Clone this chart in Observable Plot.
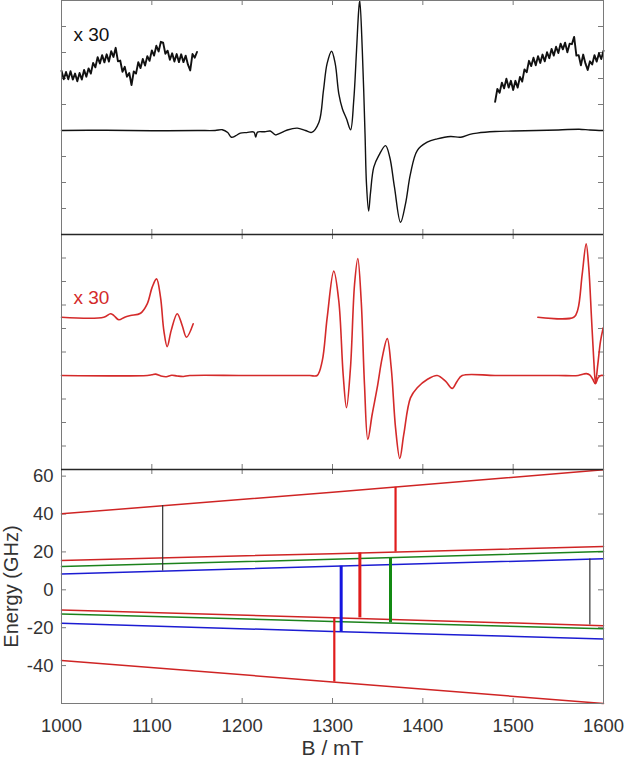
<!DOCTYPE html>
<html><head><meta charset="utf-8">
<script src="https://cdn.jsdelivr.net/npm/d3@7"></script>
<script src="https://cdn.jsdelivr.net/npm/@observablehq/plot@0.6"></script>
<style>
html,body{margin:0;padding:0;background:#fff;}
#chart svg{display:block;overflow:visible;}
</style></head><body><div id="chart"></div>
<script>
// ---------- x axis ----------
const fieldTicks = [1000, 1100, 1200, 1300, 1400, 1500, 1600];
const fieldTicksInner = [1100, 1200, 1300, 1400, 1500];

// ---------- experimental spectrum (black) ----------
const expB = [1000,1050,1100,1150,1170,1178,1184,1188,1193,1198,1205,1213,1215,1217,1225,1231,1237,1241,1250,1261,1270,1277,1285,1290,1294,1299,1303,1307,1311,1315.5,1320,1323.5,1326.6,1329,1330.2,1333,1336,1337.6,1340,1342,1345.7,1351.3,1358.7,1363.4,1368.6,1375.3,1380.8,1386.3,1393.8,1404.8,1415.9,1430.6,1442,1452,1460,1480,1500,1550,1573,1585,1600];
const expI = [0,0.01,-0.01,0,0,0.03,-0.08,-0.26,-0.2,-0.1,-0.08,-0.06,-0.25,-0.06,-0.05,-0.02,-0.17,-0.12,0.02,0.09,0,-0.07,0.32,1.54,2.57,3.05,2.57,1.41,0.83,0.45,0.03,1.15,3.08,4.62,5.0,3.08,-0.12,-2.04,-3.1,-2.42,-1.41,-0.96,-0.58,-1.03,-2.18,-3.53,-2.82,-1.67,-0.77,-0.45,-0.32,-0.23,-0.26,-0.15,-0.1,-0.04,-0.02,0.02,0.05,0.02,0];

// x30 magnified experimental segments (noisy)
const expLeftB = [1000,1002.5,1005,1007.5,1010,1012.5,1015,1017.5,1020,1022.5,1025,1027.5,1030,1032.5,1035,1037.5,1040,1042.5,1045,1047.5,1050,1052.5,1055,1057.5,1060,1062.5,1065,1067.5,1070,1072.5,1075,1077.5,1080,1082.5,1085,1087.5,1090,1092.5,1095,1097.5,1100,1102.5,1105,1107.5,1110,1112.5,1115,1117.5,1120,1122.5,1125,1127.5,1130,1132.5,1135,1137.5,1140,1142.5,1145,1147.5,1150];
const expLeftI = [2.30,1.97,2.25,1.97,2.28,1.96,2.19,1.89,2.21,1.96,2.33,2.07,2.39,2.19,2.60,2.43,2.82,2.58,2.90,2.62,2.93,2.65,3.05,2.83,3.18,2.66,2.69,2.26,2.45,2.07,2.21,1.75,2.27,2.19,2.63,2.40,2.75,2.50,2.86,2.68,3.08,2.88,3.26,3.04,3.41,3.38,2.95,3.07,2.72,2.97,2.65,2.94,2.63,2.93,2.63,2.88,2.53,2.31,2.94,2.80,3.02];
const expRightB = [1480,1482.5,1485,1487.5,1490,1492.5,1495,1497.5,1500,1502.5,1505,1507.5,1510,1512.5,1515,1517.5,1520,1522.5,1525,1527.5,1530,1532.5,1535,1537.5,1540,1542.5,1545,1547.5,1550,1552.5,1555,1557.5,1560,1562.5,1565,1567.5,1570,1572.5,1575,1577.5,1580,1582.5,1585,1587.5,1590,1592.5,1595,1597.5,1600];
const expRightI = [1.10,1.60,1.45,1.84,1.62,1.99,1.65,1.91,1.56,1.91,1.65,2.06,1.88,2.35,2.24,2.68,2.48,2.80,2.51,2.86,2.60,2.92,2.66,3.01,2.78,3.14,2.88,3.22,2.98,3.34,3.12,3.38,3.01,3.34,3.32,3.60,2.88,2.90,2.51,2.92,2.58,2.33,2.66,2.54,2.90,2.65,2.97,2.75,3.07];

// ---------- simulated spectrum (red) ----------
const simB = [1000,1095,1100,1104,1110,1116,1122,1128,1135,1142,1200,1250,1275,1283,1288.6,1294.1,1301.4,1307,1311.8,1315.5,1319.9,1324.4,1328,1331.8,1335.4,1339.1,1343.9,1349.5,1355,1360.6,1365,1369.8,1374.5,1378.9,1386.3,1393.8,1404.8,1415.9,1425.1,1432.5,1438,1443.6,1480,1520,1550,1572,1578,1581,1585,1588,1591,1594,1597,1600];
const simI = [0,0,0.03,0.06,-0.02,-0.05,0.01,-0.02,-0.04,0,0,0,0,0,0.61,2.46,4.44,3.16,0.04,-1.37,0.33,3.87,4.98,3.16,-0.38,-2.72,-1.66,-0.52,0.75,1.57,0.33,-2.23,-3.53,-2.51,-0.95,-0.52,-0.17,0,-0.24,-0.55,-0.24,0,0,0,0,0,0.06,0.08,0.02,-0.15,-0.35,-0.1,0,0];
const simLeftB = [1000,1046.8,1054.2,1058,1063.4,1070,1076.4,1087.5,1094.9,1100.4,1105.2,1109.6,1113.3,1117,1121.4,1128.1,1133.6,1138.4,1145.8];
const simLeftI = [2.48,2.48,2.63,2.55,2.37,2.48,2.55,2.65,3.05,3.76,4.11,3.33,1.91,1.23,1.91,2.63,2.13,1.63,2.2];
const simRightB = [1527.3,1567.1,1571.6,1576.4,1580.8,1583.7,1586.7,1589.3,1591.1,1593.7,1596.7,1599.7];
const simRightI = [2.48,2.48,2.81,4.3,5.6,4.58,2.46,0.61,-0.31,0.47,1.46,2.03];
const magLabel = "x 30";

// ---------- energy levels (GHz) ----------
const levelB = [1000, 1300, 1600];
const levelNames  = ["R1","R2","G1","B1","R3","G2","B2","R4"];
const levelFamily = ["red","red","green","blue","red","green","blue","red"];
const eR1 = [40.1, 51.5, 63.4];
const eR2 = [15.5, 19.1, 22.9];
const eG1 = [12.3, 16.1, 20.2];
const eB1 = [8.4, 12.4, 16.4];
const eR3 = [-10.6, -14.7, -18.9];
const eG2 = [-12.7, -16.7, -20.6];
const eB2 = [-17.6, -22.0, -25.9];
const eR4 = [-37.3, -48.6, -60.0];
const energyTicks = [-40, -20, 0, 20, 40, 60];

// transitions
const trB      = [1112, 1302, 1309.6, 1330.3, 1364.2, 1369.8, 1584.9];
const trUpper  = [44.5, -14.7, 12.5, 19.5, 16.6, 54.1, 16.3];
const trLower  = [9.9, -48.7, -22.0, -14.8, -17.4, 19.9, -18.6];
const trFamily = ["weak","red","blue","red","green","red","weak"];
const trIntensity = [0.1, 0.6, 1, 1, 1, 0.6, 0.1];

const energyLabel = "Energy (GHz)";
const fieldLabel = "B / mT";

// ---------- build tables ----------
const rows = (xs, ys) => xs.map((x, i) => ({B: x, v: ys[i]}));
const levelSeries = [eR1, eR2, eG1, eB1, eR3, eG2, eB2, eR4];
const levelRows = levelSeries.flatMap((arr, k) =>
  arr.map((E, i) => ({B: levelB[i], E, name: levelNames[k], family: levelFamily[k]})));
const trRows = trB.map((B, i) => ({B, upper: trUpper[i], lower: trLower[i], family: trFamily[i], w: trIntensity[i]}));

// ---------- styling ----------
const W = 628, ML = 61, MR = 25, innerW = W - ML - MR;
const font = "'Liberation Sans', Arial, Helvetica, sans-serif";
const frameGray = "#7a7a7a";
const sepColor = "#262626";
const colors = {red: "#cf2424", green: "#1c821c", blue: "#1c1cd2", weak: "#333333"};
const trColors = {red: "#e01c1c", green: "#138a13", blue: "#1414e0", weak: "#333333"};
const blackTrace = "#111111";
const redTrace = "#d42a2a";

function inwardTicks(xt, yt, innerH, len = 5) {
  return [
    Plot.tickX(xt, {x: d => d, insetTop: innerH - len, stroke: frameGray}),
    Plot.tickX(xt, {x: d => d, insetBottom: innerH - len, stroke: frameGray}),
    Plot.tickY(yt, {y: d => d, insetRight: innerW - len, stroke: frameGray}),
    Plot.tickY(yt, {y: d => d, insetLeft: innerW - len, stroke: frameGray})
  ];
}

const chart = document.getElementById("chart");

// Panel 1: experiment
const h1 = 234;
const y1dom = [-4, 5];
chart.append(Plot.plot({
  width: W, height: h1, marginLeft: ML, marginRight: MR, marginTop: 0, marginBottom: 0,
  style: {fontFamily: font, overflow: "visible", background: "transparent"},
  x: {domain: [1000, 1600], axis: null},
  y: {domain: y1dom, axis: null},
  marks: [
    ...inwardTicks(fieldTicksInner, [-3, -2, -1, 0, 1, 2, 3, 4], h1),
    Plot.line(rows(expB, expI), {x: "B", y: "v", stroke: blackTrace, strokeWidth: 1.4, curve: "catmull-rom"}),
    Plot.line(rows(expLeftB, expLeftI), {x: "B", y: "v", stroke: blackTrace, strokeWidth: 1.9}),
    Plot.line(rows(expRightB, expRightI), {x: "B", y: "v", stroke: blackTrace, strokeWidth: 1.9}),
    Plot.text([magLabel], {text: d => d, frameAnchor: "top-left", dx: 12, dy: 27, lineAnchor: "top", textAnchor: "start", fontSize: 19, fill: blackTrace}),
    Plot.frame({stroke: frameGray})
  ]
}));

// Panel 2: simulation
const h2 = 235;
const y2dom = [-4, 6];
chart.append(Plot.plot({
  width: W, height: h2, marginLeft: ML, marginRight: MR, marginTop: 0, marginBottom: 0,
  style: {fontFamily: font, overflow: "visible", background: "transparent"},
  x: {domain: [1000, 1600], axis: null},
  y: {domain: y2dom, axis: null},
  marks: [
    ...inwardTicks(fieldTicksInner, [-3, -2, -1, 0, 1, 2, 3, 4, 5], h2),
    Plot.line(rows(simB, simI), {x: "B", y: "v", stroke: redTrace, strokeWidth: 1.6, curve: "catmull-rom"}),
    Plot.line(rows(simLeftB, simLeftI), {x: "B", y: "v", stroke: redTrace, strokeWidth: 1.6, curve: "catmull-rom"}),
    Plot.line(rows(simRightB, simRightI), {x: "B", y: "v", stroke: redTrace, strokeWidth: 1.6, curve: "catmull-rom"}),
    Plot.text([magLabel], {text: d => d, frameAnchor: "top-left", dx: 12, dy: 56, lineAnchor: "top", textAnchor: "start", fontSize: 19, fill: redTrace}),
    Plot.frame({stroke: frameGray}),
    Plot.ruleY([y2dom[1]], {stroke: sepColor, strokeWidth: 1.6})
  ]
}));

// Panel 3: energy levels
const h3 = 291, mb3 = 57;
const y3dom = [-60, 63.5];
const families = ["red", "green", "blue"];
chart.append(Plot.plot({
  width: W, height: h3, marginLeft: ML, marginRight: MR, marginTop: 0, marginBottom: mb3,
  style: {fontFamily: font, overflow: "visible", background: "transparent"},
  x: {domain: [1000, 1600]},
  y: {domain: y3dom},
  marks: [
    Plot.axisX({ticks: fieldTicks, tickSize: 0, tickPadding: 15, fontSize: 18.5, tickFormat: d => String(d), label: null, color: "#333"}),
    Plot.axisY({ticks: energyTicks, tickSize: 0, tickPadding: 8, fontSize: 18.5, tickFormat: d => String(d), label: null, color: "#333"}),
    ...inwardTicks(fieldTicksInner, energyTicks, h3 - mb3),
    ...families.map(f => Plot.line(levelRows.filter(d => d.family === f), {x: "B", y: "E", z: "name", stroke: colors[f], strokeWidth: 1.5})),
    ...["weak", "red", "green", "blue"].map(f => Plot.ruleX(trRows.filter(d => d.family === f), {x: "B", y1: "upper", y2: "lower", stroke: trColors[f], strokeWidth: d => 1 + 2 * d.w})),
    Plot.text([energyLabel], {text: d => d, frameAnchor: "left", dx: -50, rotate: -90, textAnchor: "middle", lineAnchor: "middle", fontSize: 20, fill: "#333"}),
    Plot.text([fieldLabel], {text: d => d, frameAnchor: "bottom", dy: 45, textAnchor: "middle", lineAnchor: "middle", fontSize: 21, fill: "#333"}),
    Plot.frame({stroke: frameGray}),
    Plot.ruleY([y3dom[1]], {stroke: sepColor, strokeWidth: 1.6})
  ]
}));
</script>
</body></html>
